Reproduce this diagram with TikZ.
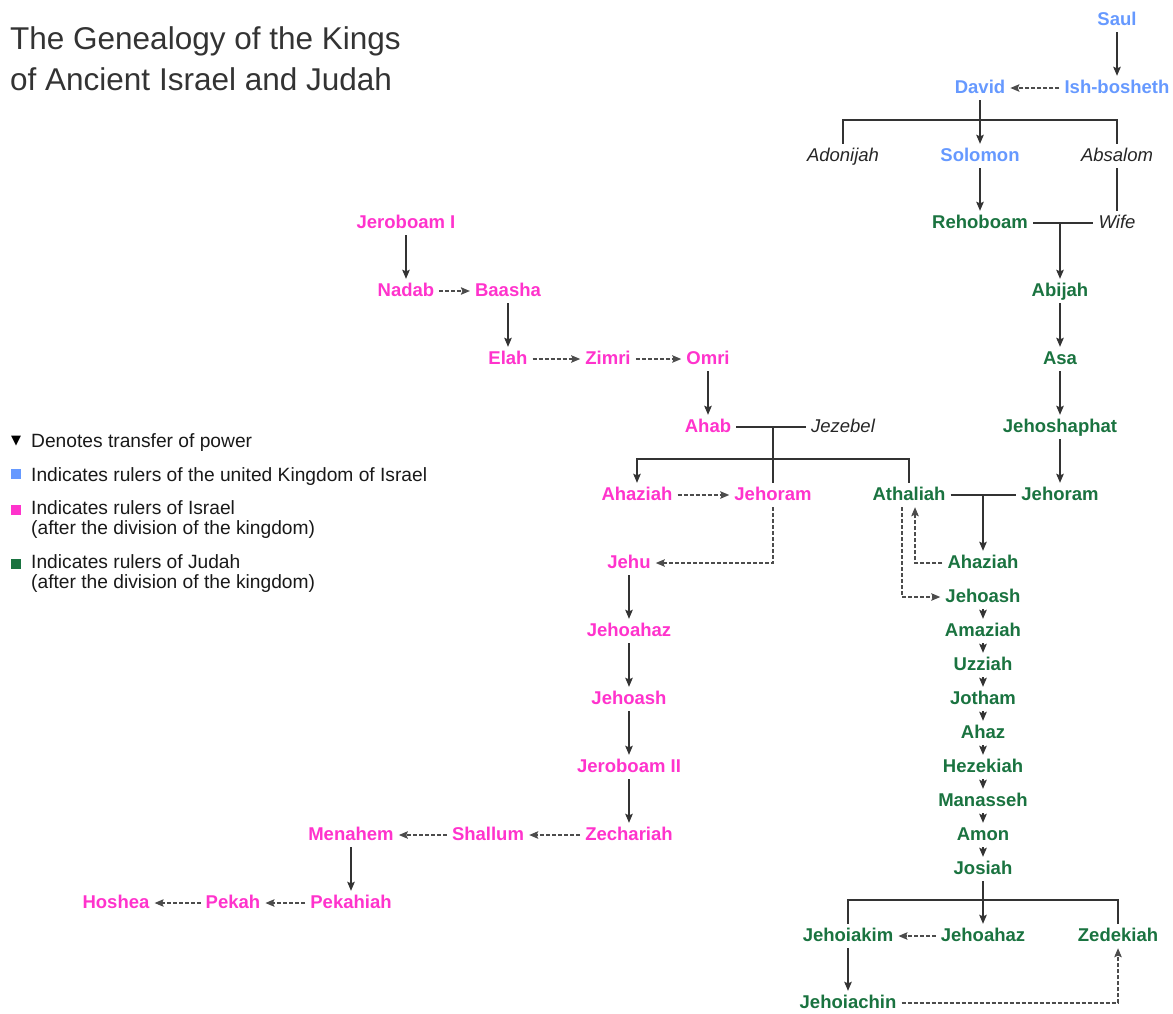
\documentclass[tikz,border=0pt]{standalone}
\usepackage{fontspec}
\setmainfont{Liberation Sans}
\newfontfamily\symfont{DejaVu Sans}
\usetikzlibrary{arrows.meta}
\definecolor{unitedblue}{RGB}{102,153,255}
\definecolor{israelpink}{RGB}{255,51,204}
\definecolor{judahgreen}{RGB}{26,115,64}

\begin{document}
\begin{tikzpicture}[>={Stealth[length=9pt, width=7.5pt, inset=1.5pt]}, x=1pt, y=-1pt, node distance=68pt]
		\tikzstyle{king} = [font=\fontsize{18.5}{22}\selectfont\bfseries, text height=14pt, text depth=3pt, inner xsep=5pt, inner ysep=3.5pt]
		\tikzstyle{unitedking} = [king, text=unitedblue]
		\tikzstyle{israelking} = [king, text=israelpink]
		\tikzstyle{judahking} = [king, text=judahgreen]
		\tikzstyle{relative} = [king, font=\fontsize{18.5}{22}\selectfont\itshape, text=black!85]
		\tikzstyle{descent} = [draw, line width=1.3pt, black!80]
		\tikzstyle{transfer} = [descent, line width=1.2pt, black!70, dash pattern=on 4pt off 2pt]
		\tikzstyle{heading} = [anchor=base west, inner sep=0pt, font=\fontsize{31.5}{35}\selectfont, text=black!80]
		\tikzstyle{legend} = [anchor=base west, inner sep=0pt, font=\fontsize{19.2}{20}\selectfont, text=black!90]
		\tikzstyle{swatch} = [minimum size=10pt, inner sep=0pt]

		\useasboundingbox (0,0) rectangle (1173,1013);

		% title and legend
		\node[heading] (title1) at (10,49) {The Genealogy of the Kings};
		\node[heading] (title2) at (10,90) {of Ancient Israel and Judah};

		\node[inner sep=0pt, font=\symfont\fontsize{13}{13}\selectfont] (legarrow) at (16,441) {▼};
		\node[swatch, fill=unitedblue] (legblue) at (16,474) {};
		\node[swatch, fill=israelpink] (legpink) at (16,510) {};
		\node[swatch, fill=judahgreen] (leggreen) at (16,564) {};
		\node[legend] (legpower) at (31,447) {Denotes transfer of power};
		\node[legend] (legunited) at (31,481) {Indicates rulers of the united Kingdom of Israel};
		\node[legend] (legisrael) at (31,514) {Indicates rulers of Israel};
		\node[legend] (legisrael2) at (31,534) {(after the division of the kingdom)};
		\node[legend] (legjudah) at (31,568) {Indicates rulers of Judah};
		\node[legend] (legjudah2) at (31,588) {(after the division of the kingdom)};

		\begin{scope}[]
		\path[->]

		% united kingdom
		node[unitedking] (saul) at (1117,20) {Saul}
		node[unitedking, below of=saul] (ishbosheth) {Ish-bosheth}
		node[unitedking] (david) at (980,88) {David}
		node[relative] (adonijah) at (843,156) {Adonijah}
		node[unitedking] (solomon) at (980,156) {Solomon}
		node[relative] (absalom) at (1117,156) {Absalom}
		node[relative] (wife) at (1117,223) {Wife}

		% judah
		node[judahking] (rehoboam) at (980,223) {Rehoboam}
		node[judahking] (abijah) at (1060,291) {Abijah}
		node[judahking, below of=abijah] (asa) {Asa}
		node[judahking, below of=asa] (jehoshaphat) {Jehoshaphat}
		node[judahking, below of=jehoshaphat] (jehoramJ) {Jehoram}
		node[judahking] (athaliah) at (909,495) {Athaliah}
		node[judahking] (ahaziahJ) at (983,563) {Ahaziah}
		node[judahking] (jehoashJ) at (983,597) {Jehoash}
		node[judahking, node distance=34pt, below of=jehoashJ] (amaziah) {Amaziah}
		node[judahking, node distance=34pt, below of=amaziah] (uzziah) {Uzziah}
		node[judahking, node distance=34pt, below of=uzziah] (jotham) {Jotham}
		node[judahking, node distance=34pt, below of=jotham] (ahaz) {Ahaz}
		node[judahking, node distance=34pt, below of=ahaz] (hezekiah) {Hezekiah}
		node[judahking, node distance=34pt, below of=hezekiah] (manasseh) {Manasseh}
		node[judahking, node distance=34pt, below of=manasseh] (amon) {Amon}
		node[judahking, node distance=34pt, below of=amon] (josiah) {Josiah}
		node[judahking] (jehoiakim) at (848,936) {Jehoiakim}
		node[judahking] (jehoahazJ) at (983,936) {Jehoahaz}
		node[judahking] (zedekiah) at (1118,936) {Zedekiah}
		node[judahking] (jehoiachin) at (848,1003) {Jehoiachin}

		% israel
		node[israelking] (jeroboamI) at (406,223) {Jeroboam I}
		node[israelking, below of=jeroboamI] (nadab) {Nadab}
		node[israelking] (baasha) at (508,291) {Baasha}
		node[israelking, below of=baasha] (elah) {Elah}
		node[israelking] (zimri) at (608,359) {Zimri}
		node[israelking] (omri) at (708,359) {Omri}
		node[israelking, below of=omri] (ahab) {Ahab}
		node[relative] (jezebel) at (843,427) {Jezebel}
		node[israelking] (ahaziahI) at (637,495) {Ahaziah}
		node[israelking] (jehoramI) at (773,495) {Jehoram}
		node[israelking] (jehu) at (629,563) {Jehu}
		node[israelking, below of=jehu] (jehoahazI) {Jehoahaz}
		node[israelking, below of=jehoahazI] (jehoashI) {Jehoash}
		node[israelking, below of=jehoashI] (jeroboamII) {Jeroboam II}
		node[israelking, below of=jeroboamII] (zechariah) {Zechariah}
		node[israelking] (shallum) at (488,835) {Shallum}
		node[israelking] (menahem) at (351,835) {Menahem}
		node[israelking, below of=menahem] (pekahiah) {Pekahiah}
		node[israelking] (pekah) at (233,903) {Pekah}
		node[israelking] (hoshea) at (116,903) {Hoshea}

		(saul) edge[descent] (ishbosheth)
		(ishbosheth) edge[transfer] (david)
		(david) edge[descent] (solomon)
		(solomon) edge[descent] (rehoboam)
		(absalom) edge[descent, -] (wife)
		(rehoboam) edge[descent, -] (wife)
		(abijah |- rehoboam) edge[descent] (abijah)
		(abijah) edge[descent] (asa)
		(asa) edge[descent] (jehoshaphat)
		(jehoshaphat) edge[descent] (jehoramJ)
		(athaliah) edge[descent, -] (jehoramJ)
		(ahaziahJ |- athaliah) edge[descent] (ahaziahJ)
		(jehoashJ) edge[descent] (amaziah)
		(amaziah) edge[descent] (uzziah)
		(uzziah) edge[descent] (jotham)
		(jotham) edge[descent] (ahaz)
		(ahaz) edge[descent] (hezekiah)
		(hezekiah) edge[descent] (manasseh)
		(manasseh) edge[descent] (amon)
		(amon) edge[descent] (josiah)
		(josiah) edge[descent] (jehoahazJ)
		(jehoahazJ) edge[transfer] (jehoiakim)
		(jehoiakim) edge[descent] (jehoiachin)

		(jeroboamI) edge[descent] (nadab)
		(nadab) edge[transfer] (baasha)
		(baasha) edge[descent] (elah)
		(elah) edge[transfer] (zimri)
		(zimri) edge[transfer] (omri)
		(omri) edge[descent] (ahab)
		(ahab) edge[descent, -] (jezebel)
		(jehoramI |- ahab) edge[descent, -] (jehoramI)
		(ahaziahI) edge[transfer] (jehoramI)
		(jehu) edge[descent] (jehoahazI)
		(jehoahazI) edge[descent] (jehoashI)
		(jehoashI) edge[descent] (jeroboamII)
		(jeroboamII) edge[descent] (zechariah)
		(zechariah) edge[transfer] (shallum)
		(shallum) edge[transfer] (menahem)
		(menahem) edge[descent] (pekahiah)
		(pekahiah) edge[transfer] (pekah)
		(pekah) edge[transfer] (hoshea)
		;
		\end{scope}

		% bars and elbows
		\coordinate (davidbar) at (980,120);
		\coordinate (ahabbar) at (773,459);
		\coordinate (josiahbar) at (983,900);
		\draw[descent] (adonijah) |- (davidbar) -| (absalom);
		\draw[descent, ->] (athaliah) |- (ahabbar) -| (ahaziahI);
		\draw[descent] (jehoiakim) |- (josiahbar) -| (zedekiah);
		\draw[transfer, ->] (jehoramI) |- (jehu);
		\draw[transfer, ->] (ahaziahJ) -| ([xshift=6pt]athaliah.south);
		\draw[transfer, ->] ([xshift=-7pt]athaliah.south) |- (jehoashJ);
		\draw[transfer, ->] (jehoiachin) -| (zedekiah);

		\end{tikzpicture}
\end{document}
